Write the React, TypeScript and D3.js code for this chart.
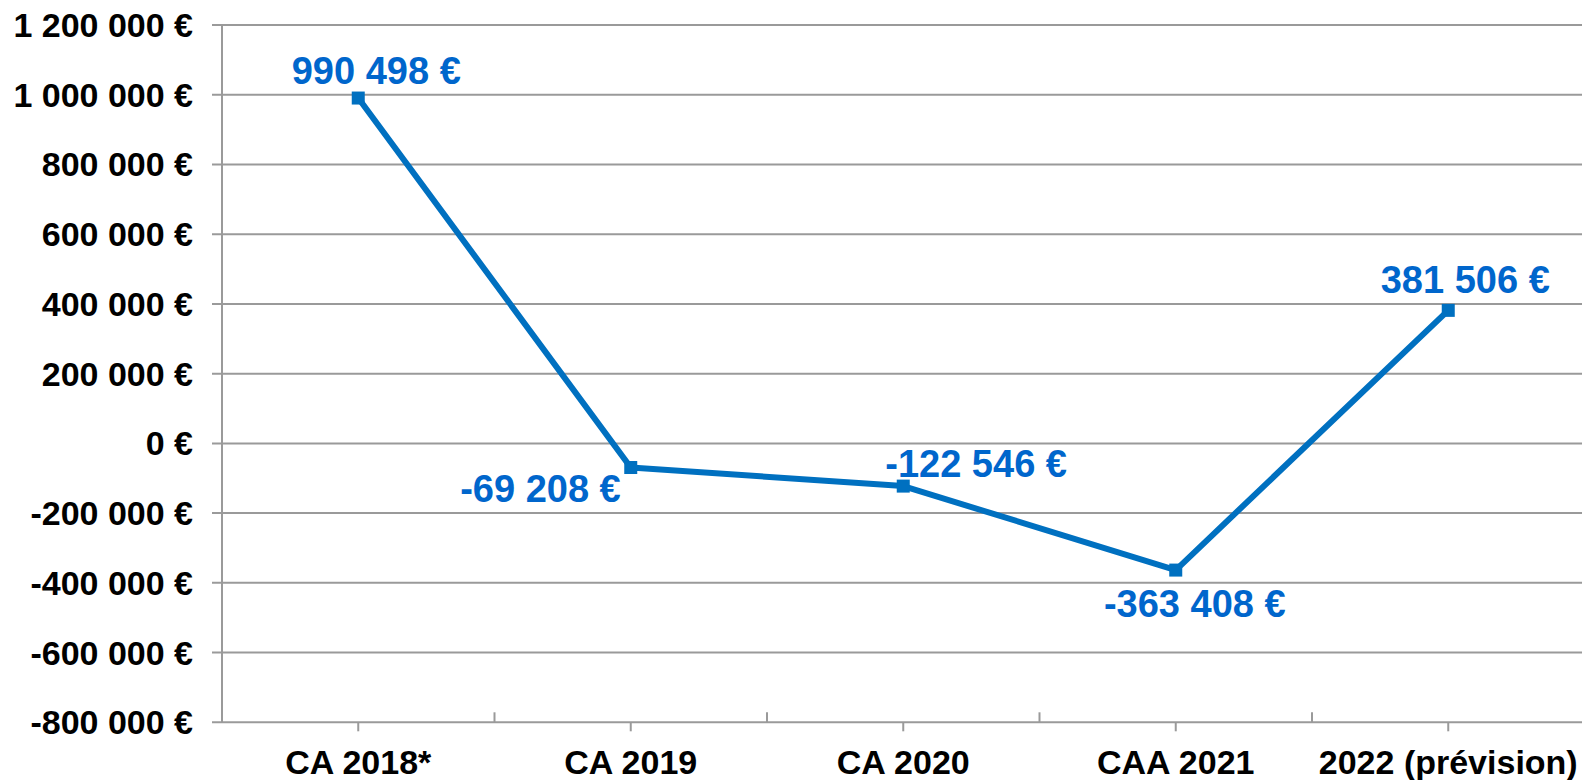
import React, { useRef, useEffect } from "react";
import * as d3 from "d3";

// chart data
const categories = ["CA 2018*", "CA 2019", "CA 2020", "CAA 2021", "2022 (prévision)"];
const values = [990498, -69208, -122546, -363408, 381506];
const yTicks = [-800000, -600000, -400000, -200000, 0, 200000, 400000, 600000, 800000, 1000000, 1200000];

// label placement relative to the point (dx, dy, anchor)
const labelOffsets: [number, number, string][] = [
  [18, -14, "middle"],
  [-10, 34, "end"],
  [-18, -9, "start"],
  [19, 47, "middle"],
  [17, -17, "middle"],
];

const width = 1582;
const height = 780;
const left = 222;
const right = 1584.5;
const top = 25;
const bottom = 722.3;

const App = () => {
  const container = useRef<SVGSVGElement>(null);

  useEffect(() => {
    const svg = d3.select(container.current);
    svg.selectAll("*").remove();

    const fr = d3.formatLocale({ decimal: ",", thousands: " ", grouping: [3], currency: ["", " €"], minus: "-" });
    const fmt = (v: number) => fr.format(",.0f")(v) + " €";

    const xScale = d3.scaleBand().domain(categories).range([left, right]).paddingInner(0).paddingOuter(0);
    const yScale = d3.scaleLinear().domain([-800000, 1200000]).range([bottom, top]);
    const cx = (c: string) => (xScale(c) as number) + xScale.bandwidth() / 2;

    const grid = "#9a9a9a";

    // gridlines + y tick stubs
    svg
      .append("g")
      .selectAll("line")
      .data(yTicks)
      .enter()
      .append("line")
      .attr("x1", left - 10)
      .attr("x2", width)
      .attr("y1", d => yScale(d))
      .attr("y2", d => yScale(d))
      .attr("stroke", grid)
      .attr("stroke-width", 2);

    // y axis line
    svg
      .append("line")
      .attr("x1", left)
      .attr("x2", left)
      .attr("y1", top)
      .attr("y2", bottom)
      .attr("stroke", grid)
      .attr("stroke-width", 2);

    // y labels
    svg
      .append("g")
      .selectAll("text")
      .data(yTicks)
      .enter()
      .append("text")
      .attr("x", left - 29)
      .attr("y", d => yScale(d) + 12)
      .attr("text-anchor", "end")
      .style("font-family", "'Liberation Sans', Arial, sans-serif")
      .style("font-weight", "bold")
      .style("font-size", "34px")
      .style("fill", "#000")
      .text(d => fmt(d));

    // x ticks: below at category centres, above at boundaries
    svg
      .append("g")
      .selectAll("line")
      .data(categories)
      .enter()
      .append("line")
      .attr("x1", d => cx(d))
      .attr("x2", d => cx(d))
      .attr("y1", bottom)
      .attr("y2", bottom + 9)
      .attr("stroke", grid)
      .attr("stroke-width", 2);

    svg
      .append("g")
      .selectAll("line")
      .data(categories.slice(1))
      .enter()
      .append("line")
      .attr("x1", d => xScale(d) as number)
      .attr("x2", d => xScale(d) as number)
      .attr("y1", bottom - 10)
      .attr("y2", bottom)
      .attr("stroke", grid)
      .attr("stroke-width", 2);

    // x labels
    svg
      .append("g")
      .selectAll("text")
      .data(categories)
      .enter()
      .append("text")
      .attr("x", d => cx(d))
      .attr("y", 774)
      .attr("text-anchor", "middle")
      .style("font-family", "'Liberation Sans', Arial, sans-serif")
      .style("font-weight", "bold")
      .style("font-size", "34px")
      .style("fill", "#000")
      .text(d => d);

    // line
    const pts = categories.map((c, i) => ({ c, v: values[i], i }));
    const line = d3
      .line<{ c: string; v: number }>()
      .x(d => cx(d.c))
      .y(d => yScale(d.v));

    svg
      .append("path")
      .datum(pts)
      .attr("d", line)
      .attr("fill", "none")
      .attr("stroke", "#0070C0")
      .attr("stroke-width", 6)
      .attr("stroke-linejoin", "round");

    // markers
    svg
      .append("g")
      .selectAll("rect")
      .data(pts)
      .enter()
      .append("rect")
      .attr("x", d => cx(d.c) - 6.5)
      .attr("y", d => yScale(d.v) - 6.5)
      .attr("width", 13)
      .attr("height", 13)
      .attr("fill", "#0070C0");

    // data labels
    svg
      .append("g")
      .selectAll("text")
      .data(pts)
      .enter()
      .append("text")
      .attr("x", d => cx(d.c) + labelOffsets[d.i][0])
      .attr("y", d => yScale(d.v) + labelOffsets[d.i][1])
      .attr("text-anchor", d => labelOffsets[d.i][2])
      .style("font-family", "'Liberation Sans', Arial, sans-serif")
      .style("font-weight", "bold")
      .style("font-size", "38px")
      .style("fill", "#0066CC")
      .text(d => fmt(d.v));
  }, []);

  return (
    <div style={{ position: "absolute", top: 0, left: 0, width, height, background: "#fff" }}>
      <svg ref={container} width={width} height={height} style={{ display: "block" }} />
    </div>
  );
};

export default App;
